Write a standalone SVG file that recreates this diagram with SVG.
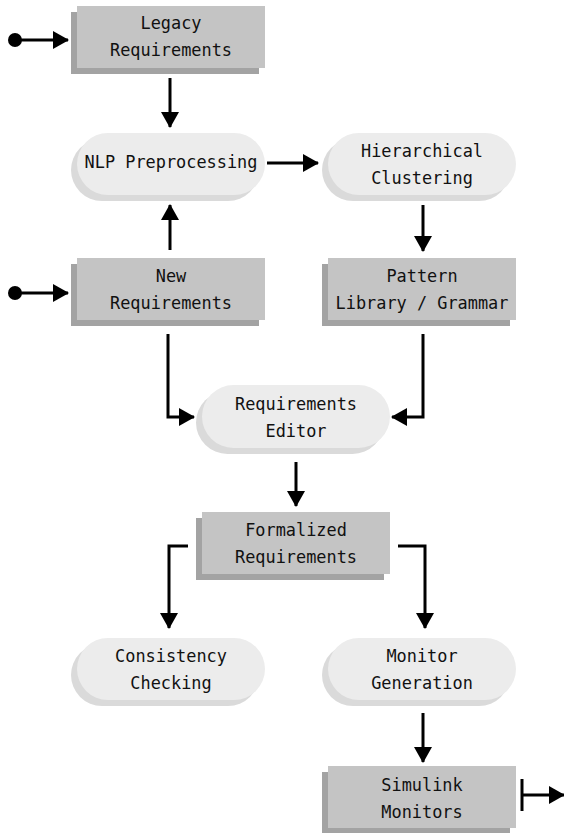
<svg xmlns="http://www.w3.org/2000/svg" width="564" height="833" viewBox="0 0 564 833">
<style>
.box{fill:#c4c4c4}
.boxs{fill:#a3a3a3}
.pill{fill:#ececec}
.pills{fill:#dadada}
text{font-family:"DejaVu Sans Mono","Liberation Mono",monospace;font-size:16.9px;fill:#111;text-anchor:middle}
.c{stroke:#000;stroke-width:3;fill:none}
</style>
<defs>
<marker id="ah" markerUnits="userSpaceOnUse" markerWidth="16" markerHeight="18" refX="15" refY="9" orient="auto">
<path d="M0,0 L16,9 L0,18 z" fill="#000"/>
</marker>
</defs>
<rect width="564" height="833" fill="#fff"/>

<g id="legacy">
<rect class="boxs" x="71" y="12" width="188" height="62"/>
<rect class="box" x="77" y="6" width="188" height="62"/>
<text x="171" y="29">Legacy</text>
<text x="171" y="56">Requirements</text>
</g>

<g id="nlp">
<rect class="pills" x="71" y="139" width="188" height="62" rx="31"/>
<rect class="pill" x="77" y="133" width="188" height="62" rx="31"/>
<text x="171" y="168">NLP Preprocessing</text>
</g>

<g id="hier">
<rect class="pills" x="322" y="139" width="188" height="62" rx="31"/>
<rect class="pill" x="328" y="133" width="188" height="62" rx="31"/>
<text x="422" y="157">Hierarchical</text>
<text x="422" y="184">Clustering</text>
</g>

<g id="newreq">
<rect class="boxs" x="71" y="264" width="188" height="62"/>
<rect class="box" x="77" y="258" width="188" height="62"/>
<text x="171" y="282">New</text>
<text x="171" y="309">Requirements</text>
</g>

<g id="pattern">
<rect class="boxs" x="322" y="264" width="188" height="62"/>
<rect class="box" x="328" y="258" width="188" height="62"/>
<text x="422" y="282">Pattern</text>
<text x="422" y="309">Library / Grammar</text>
</g>

<g id="editor">
<rect class="pills" x="196" y="391" width="188" height="63" rx="31.5"/>
<rect class="pill" x="202" y="385" width="188" height="63" rx="31.5"/>
<text x="296" y="410">Requirements</text>
<text x="296" y="437">Editor</text>
</g>

<g id="formal">
<rect class="boxs" x="196" y="518" width="188" height="62"/>
<rect class="box" x="202" y="512" width="188" height="62"/>
<text x="296" y="536">Formalized</text>
<text x="296" y="563">Requirements</text>
</g>

<g id="consistency">
<rect class="pills" x="71" y="644" width="188" height="62" rx="31"/>
<rect class="pill" x="77" y="638" width="188" height="62" rx="31"/>
<text x="171" y="662">Consistency</text>
<text x="171" y="689">Checking</text>
</g>

<g id="monitor">
<rect class="pills" x="322" y="644" width="188" height="62" rx="31"/>
<rect class="pill" x="328" y="638" width="188" height="62" rx="31"/>
<text x="422" y="662">Monitor</text>
<text x="422" y="689">Generation</text>
</g>

<g id="simulink">
<rect class="boxs" x="322" y="772" width="188" height="62"/>
<rect class="box" x="328" y="766" width="188" height="62"/>
<text x="422" y="791">Simulink</text>
<text x="422" y="818">Monitors</text>
</g>

<g id="connectors">
<circle cx="15" cy="40" r="7" fill="#000"/>
<line class="c" x1="15" y1="40" x2="68" y2="40" marker-end="url(#ah)"/>
<line class="c" x1="170" y1="78" x2="170" y2="127" marker-end="url(#ah)"/>
<line class="c" x1="170" y1="250" x2="170" y2="205" marker-end="url(#ah)"/>
<line class="c" x1="267" y1="163" x2="318" y2="163" marker-end="url(#ah)"/>
<line class="c" x1="423" y1="205" x2="423" y2="251" marker-end="url(#ah)"/>
<circle cx="15" cy="293" r="7" fill="#000"/>
<line class="c" x1="15" y1="293" x2="68" y2="293" marker-end="url(#ah)"/>
<polyline class="c" points="168,334 168,417 194,417" marker-end="url(#ah)"/>
<polyline class="c" points="423,334 423,417 392,417" marker-end="url(#ah)"/>
<line class="c" x1="296" y1="462" x2="296" y2="506" marker-end="url(#ah)"/>
<polyline class="c" points="188,546 169,546 169,628" marker-end="url(#ah)"/>
<polyline class="c" points="398,546 425,546 425,628" marker-end="url(#ah)"/>
<line class="c" x1="423" y1="713" x2="423" y2="762" marker-end="url(#ah)"/>
<line class="c" x1="522" y1="779" x2="522" y2="811"/>
<line class="c" x1="522" y1="795" x2="564" y2="795" marker-end="url(#ah)"/>
</g>
</svg>
